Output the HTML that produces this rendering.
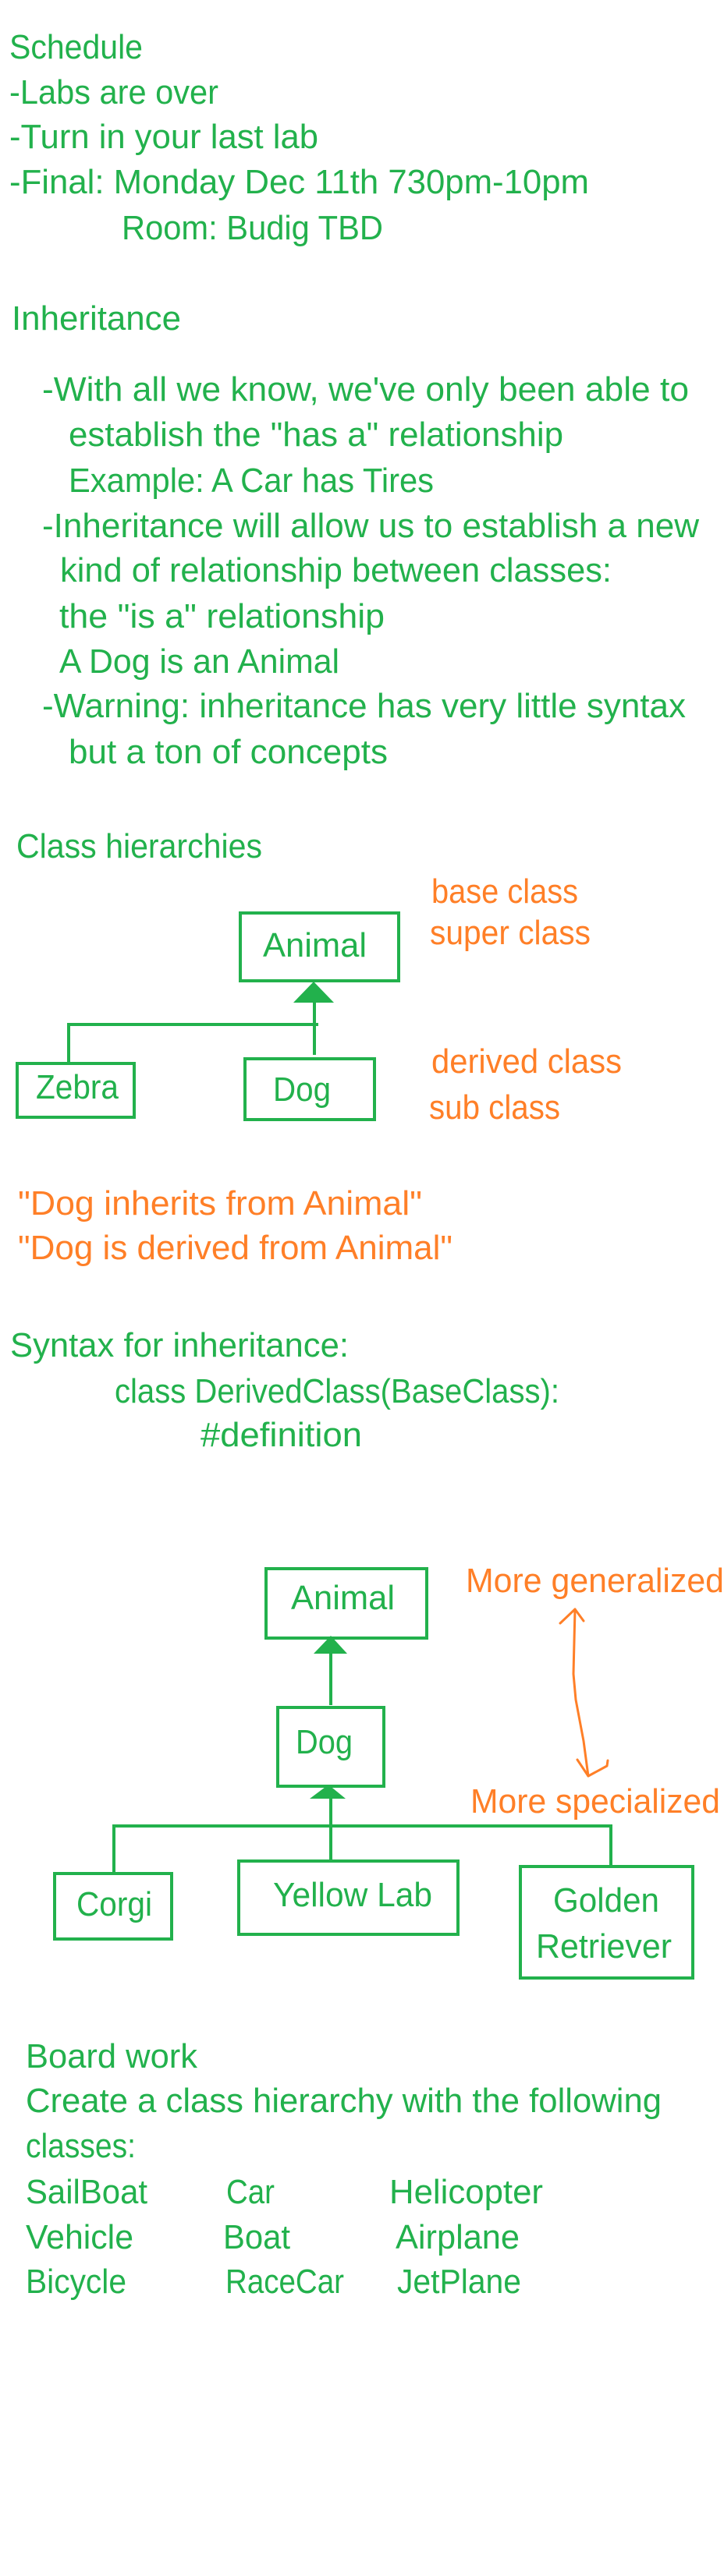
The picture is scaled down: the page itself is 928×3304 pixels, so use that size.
<!DOCTYPE html>
<html><head><meta charset="utf-8"><style>
html,body{margin:0;padding:0;background:#fff;}
svg{display:block;}
text{font-family:"Liberation Sans",sans-serif;font-size:44px;}
.g{fill:#22b14c;} .o{fill:#ff7f27;}
</style></head><body>
<svg width="928" height="3304" viewBox="0 0 928 3304" xmlns="http://www.w3.org/2000/svg">
<g class="g" lengthAdjust="spacingAndGlyphs">
<text class="g" x="12" y="75" textLength="171" lengthAdjust="spacingAndGlyphs">Schedule</text>
<text class="g" x="12" y="133" textLength="268" lengthAdjust="spacingAndGlyphs">-Labs are over</text>
<text class="g" x="12" y="190" textLength="396" lengthAdjust="spacingAndGlyphs">-Turn in your last lab</text>
<text class="g" x="12" y="248" textLength="743" lengthAdjust="spacingAndGlyphs">-Final: Monday Dec 11th 730pm-10pm</text>
<text class="g" x="156" y="307" textLength="335" lengthAdjust="spacingAndGlyphs">Room: Budig TBD</text>
<text class="g" x="15" y="423" textLength="217" lengthAdjust="spacingAndGlyphs">Inheritance</text>
<text class="g" x="54" y="514" textLength="829" lengthAdjust="spacingAndGlyphs">-With all we know, we've only been able to</text>
<text class="g" x="88" y="572" textLength="634" lengthAdjust="spacingAndGlyphs">establish the "has a" relationship</text>
<text class="g" x="88" y="631" textLength="468" lengthAdjust="spacingAndGlyphs">Example: A Car has Tires</text>
<text class="g" x="54" y="689" textLength="842" lengthAdjust="spacingAndGlyphs">-Inheritance will allow us to establish a new</text>
<text class="g" x="77" y="746" textLength="707" lengthAdjust="spacingAndGlyphs">kind of relationship between classes:</text>
<text class="g" x="76" y="805" textLength="417" lengthAdjust="spacingAndGlyphs">the "is a" relationship</text>
<text class="g" x="76" y="863" textLength="359" lengthAdjust="spacingAndGlyphs">A Dog is an Animal</text>
<text class="g" x="54" y="920" textLength="825" lengthAdjust="spacingAndGlyphs">-Warning: inheritance has very little syntax</text>
<text class="g" x="88" y="979" textLength="409" lengthAdjust="spacingAndGlyphs">but a ton of concepts</text>

<text class="g" x="21" y="1100" textLength="315" lengthAdjust="spacingAndGlyphs">Class hierarchies</text>
<text class="o" x="553" y="1158" textLength="188" lengthAdjust="spacingAndGlyphs">base class</text>
<text class="o" x="551" y="1211" textLength="206" lengthAdjust="spacingAndGlyphs">super class</text>
<text class="g" x="337" y="1227" textLength="133" lengthAdjust="spacingAndGlyphs">Animal</text>
<text class="g" x="46" y="1409" textLength="106" lengthAdjust="spacingAndGlyphs">Zebra</text>
<text class="g" x="350" y="1412" textLength="74" lengthAdjust="spacingAndGlyphs">Dog</text>
<text class="o" x="553" y="1376" textLength="244" lengthAdjust="spacingAndGlyphs">derived class</text>
<text class="o" x="550" y="1435" textLength="168" lengthAdjust="spacingAndGlyphs">sub class</text>
<text class="o" x="23" y="1558" textLength="518" lengthAdjust="spacingAndGlyphs">"Dog inherits from Animal"</text>
<text class="o" x="23" y="1615" textLength="557" lengthAdjust="spacingAndGlyphs">"Dog is derived from Animal"</text>
<text class="g" x="13" y="1740" textLength="434" lengthAdjust="spacingAndGlyphs">Syntax for inheritance:</text>
<text class="g" x="147" y="1799" textLength="570" lengthAdjust="spacingAndGlyphs">class DerivedClass(BaseClass):</text>
<text class="g" x="257" y="1855" textLength="207" lengthAdjust="spacingAndGlyphs">#definition</text>

<text class="g" x="373" y="2064" textLength="133" lengthAdjust="spacingAndGlyphs">Animal</text>
<text class="o" x="597" y="2042" textLength="331" lengthAdjust="spacingAndGlyphs">More generalized</text>
<text class="g" x="379" y="2249" textLength="73" lengthAdjust="spacingAndGlyphs">Dog</text>
<text class="o" x="603" y="2325" textLength="320" lengthAdjust="spacingAndGlyphs">More specialized</text>
<text class="g" x="98" y="2457" textLength="97" lengthAdjust="spacingAndGlyphs">Corgi</text>
<text class="g" x="350" y="2445" textLength="204" lengthAdjust="spacingAndGlyphs">Yellow Lab</text>
<text class="g" x="709" y="2452" textLength="136" lengthAdjust="spacingAndGlyphs">Golden</text>
<text class="g" x="687" y="2511" textLength="174" lengthAdjust="spacingAndGlyphs">Retriever</text>

<text class="g" x="33" y="2652" textLength="220" lengthAdjust="spacingAndGlyphs">Board work</text>
<text class="g" x="33" y="2709" textLength="815" lengthAdjust="spacingAndGlyphs">Create a class hierarchy with the following</text>
<text class="g" x="33" y="2767" textLength="141" lengthAdjust="spacingAndGlyphs">classes:</text>
<text class="g" x="33" y="2826" textLength="156" lengthAdjust="spacingAndGlyphs">SailBoat</text>
<text class="g" x="290" y="2826" textLength="62" lengthAdjust="spacingAndGlyphs">Car</text>
<text class="g" x="499" y="2826" textLength="197" lengthAdjust="spacingAndGlyphs">Helicopter</text>
<text class="g" x="33" y="2884" textLength="138" lengthAdjust="spacingAndGlyphs">Vehicle</text>
<text class="g" x="286" y="2884" textLength="86" lengthAdjust="spacingAndGlyphs">Boat</text>
<text class="g" x="507" y="2884" textLength="159" lengthAdjust="spacingAndGlyphs">Airplane</text>
<text class="g" x="33" y="2941" textLength="129" lengthAdjust="spacingAndGlyphs">Bicycle</text>
<text class="g" x="289" y="2941" textLength="152" lengthAdjust="spacingAndGlyphs">RaceCar</text>
<text class="g" x="509" y="2941" textLength="159" lengthAdjust="spacingAndGlyphs">JetPlane</text>
</g>

<g fill="none" stroke="#22b14c" stroke-width="4">
<rect x="308" y="1171" width="203" height="87"/>
<rect x="22" y="1364" width="150" height="69"/>
<rect x="314" y="1358" width="166" height="78"/>
<line x1="403" y1="1286" x2="403" y2="1353"/>
<polyline points="88,1364 88,1314 408,1314"/>

<rect x="341" y="2012" width="206" height="89"/>
<rect x="356" y="2190" width="136" height="101"/>
<rect x="70" y="2403" width="150" height="84"/>
<rect x="306" y="2387" width="281" height="94"/>
<rect x="667" y="2394" width="221" height="143"/>
<line x1="424" y1="2121" x2="424" y2="2187"/>
<line x1="424" y1="2307" x2="424" y2="2387"/>
<polyline points="146,2403 146,2342 783,2342 783,2394"/>
</g>
<g fill="#22b14c">
<polygon points="402,1259 376,1286 428,1286"/>
<polygon points="424,2098 402,2121 445,2121"/>
<polygon points="421,2289 397,2307 443,2307"/>
</g>
<g fill="none" stroke="#ff7f27" stroke-width="3" stroke-linecap="round" stroke-linejoin="round">
<polyline points="718,2082 737,2064 748,2079"/>
<polyline points="737,2064 735,2147 738,2180 748,2233 754,2278"/>
<polyline points="740,2257 754,2278 778,2265 779,2258"/>
</g>
</svg>
</body></html>
